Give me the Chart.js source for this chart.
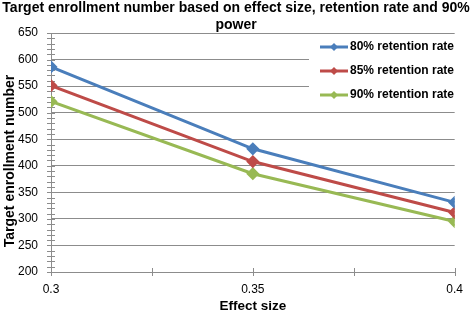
<!DOCTYPE html>
<html><head><meta charset="utf-8">
<script src="https://cdn.jsdelivr.net/npm/chart.js@4/dist/chart.umd.min.js"></script>
<style>html,body{margin:0;padding:0;background:#fff}#wrap{width:473px;height:313px}</style>
</head><body><div id="wrap"><canvas id="c" width="473" height="313"></canvas></div>
<script>
const effectSizes = [0.3, 0.35, 0.4];
const retention80 = [586, 432, 331];
const retention85 = [551, 408, 312];
const retention90 = [521, 385, 295];
const seriesNames = ['80% retention rate', '85% retention rate', '90% retention rate'];
const titleLines = ['Target enrollment number based on effect size, retention rate and 90%', 'power'];
const yTitle = 'Target enrollment number';
const xTitle = 'Effect size';
const colors = ['#4A7EBB', '#BE4B48', '#98B954'];
const FONT = "'Liberation Sans', Arial, sans-serif";

function mk(vals){ return effectSizes.map((x,i)=>({x:x,y:vals[i]})); }
const sets = [retention80, retention85, retention90].map((v,i)=>({
  label: seriesNames[i], data: mk(v), borderColor: colors[i], backgroundColor: colors[i],
  borderWidth: 3, pointStyle: 'rectRot', pointRadius: 4.5, pointHoverRadius: 4.5, tension: 0
}));

const deco = {
  id: 'deco',
  beforeDatasetsDraw(chart){
    const ctx = chart.ctx, ca = chart.chartArea, ys = chart.scales.y, xs = chart.scales.x;
    ctx.save();
    ctx.strokeStyle = '#8c8c8c'; ctx.lineWidth = 1;
    for (let v = 200; v <= 650; v += 10) {
      const py = Math.round(ys.getPixelForValue(v)) + 0.5;
      ctx.beginPath(); ctx.moveTo(ca.left - 4, py); ctx.lineTo(ca.left + 4, py); ctx.stroke();
    }
    for (let i = 0; i <= 4; i++) {
      const v = 0.3 + i*0.025;
      const px = Math.round(xs.getPixelForValue(v)) + 0.5;
      ctx.beginPath(); ctx.moveTo(px, ca.bottom - 4); ctx.lineTo(px, ca.bottom + 4); ctx.stroke();
    }
    ctx.fillStyle = '#fff';
    ctx.fillRect(309, 37, ca.right - 309 + 1, 73);
    ctx.restore();
  },
  afterDatasetsDraw(chart){
    const ctx = chart.ctx, ca = chart.chartArea;
    ctx.save();
    const rows = [47, 71, 95];
    rows.forEach((y,i)=>{
      ctx.strokeStyle = colors[i]; ctx.lineWidth = 3;
      ctx.beginPath(); ctx.moveTo(320, y); ctx.lineTo(348, y); ctx.stroke();
      ctx.fillStyle = colors[i];
      ctx.beginPath(); ctx.moveTo(334, y-4); ctx.lineTo(338, y); ctx.lineTo(334, y+4); ctx.lineTo(330, y); ctx.closePath(); ctx.fill();
      ctx.fillStyle = '#000'; ctx.font = 'bold 12px ' + FONT; ctx.textBaseline = 'middle'; ctx.textAlign = 'left';
      ctx.fillText(seriesNames[i], 350, y);
    });
    ctx.fillStyle = '#000'; ctx.font = 'bold 14px ' + FONT; ctx.textAlign = 'center'; ctx.textBaseline = 'middle';
    ctx.fillText(titleLines[0], 236, 8);
    ctx.fillText(titleLines[1], 236, 25);
    ctx.font = 'bold 13.5px ' + FONT;
    ctx.fillText(xTitle, (ca.left + ca.right)/2, 306);
    ctx.translate(10, 161); ctx.rotate(-Math.PI/2);
    ctx.font = 'bold 14px ' + FONT;
    ctx.fillText(yTitle, 0, 0);
    ctx.restore();
  }
};

new Chart(document.getElementById('c'), {
  type: 'line',
  data: { datasets: sets },
  options: {
    responsive: false, animation: false, devicePixelRatio: 1,
    layout: { padding: { top: 33, right: 13, left: 0, bottom: 0 } },
    plugins: { legend: { display: false }, title: { display: false }, tooltip: { enabled: false } },
    scales: {
      x: {
        type: 'linear', min: 0.3, max: 0.4,
        afterFit(s){ s.height = 41; },
        grid: { display: false, drawTicks: false },
        border: { display: true, color: '#8c8c8c' },
        ticks: { stepSize: 0.025, padding: 10, color: '#000', font: { family: FONT, size: 12 },
          callback(v){ const r = v*20; return Math.abs(r - Math.round(r)) < 1e-6 ? String(+v.toFixed(2)) : ''; } },
        title: { display: false }
      },
      y: {
        min: 200, max: 650,
        afterFit(s){ s.width = 51; },
        grid: { color: '#8c8c8c', drawTicks: false },
        border: { display: true, color: '#8c8c8c' },
        ticks: { stepSize: 50, padding: 13, color: '#000', font: { family: FONT, size: 12 } },
        title: { display: false }
      }
    }
  },
  plugins: [deco]
});
</script></body></html>
